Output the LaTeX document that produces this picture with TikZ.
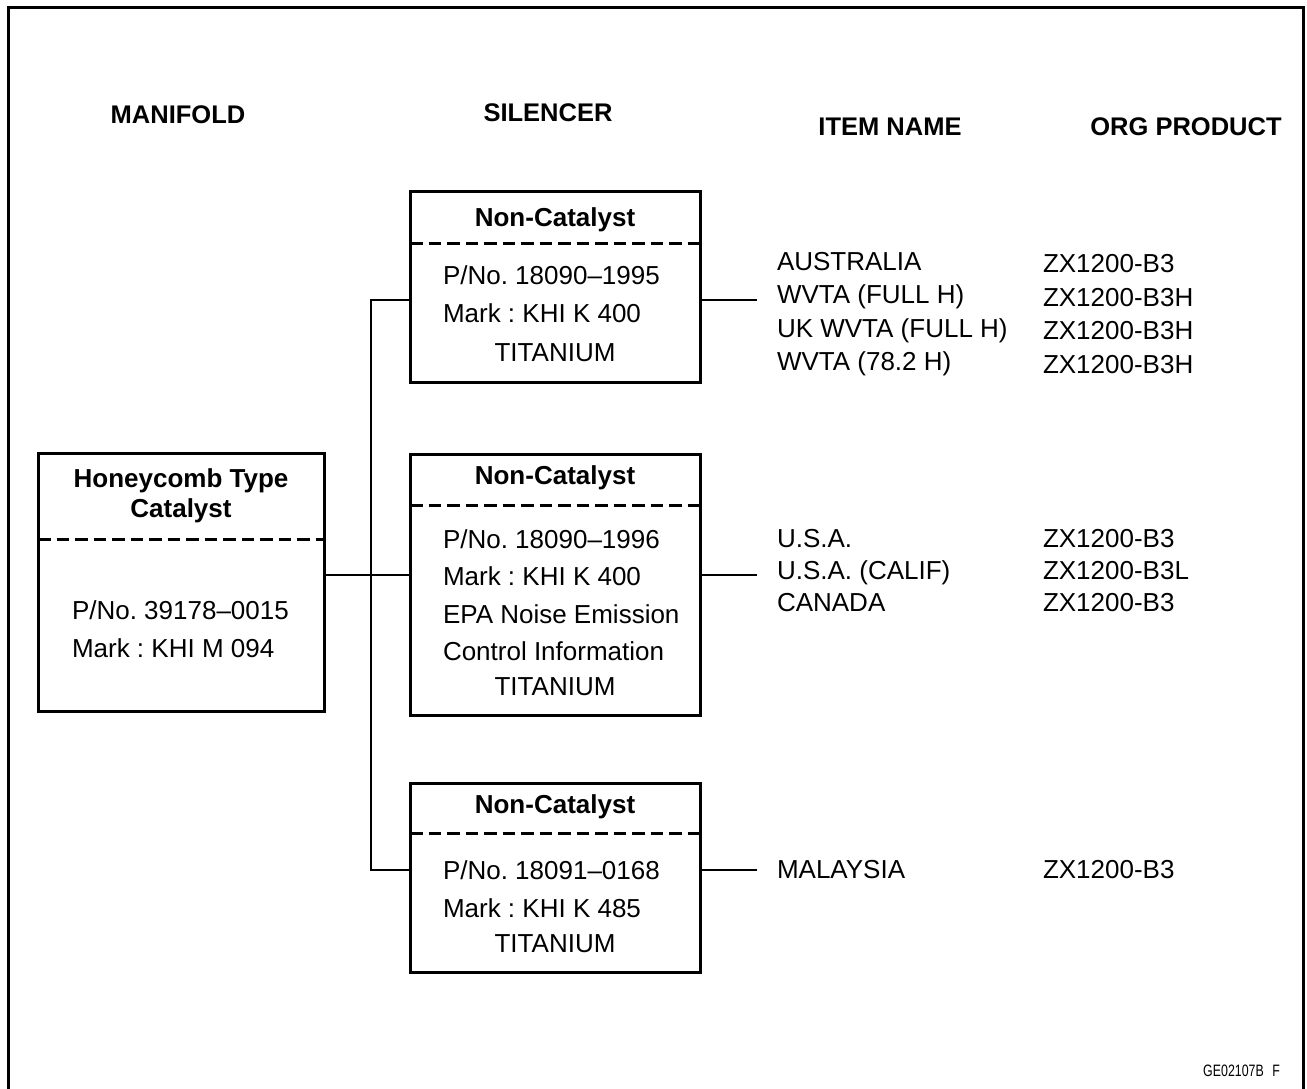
\documentclass[tikz,border=0pt]{standalone}
\usepackage{fontspec}
\setmainfont{Liberation Sans}
\usepackage{tikz}
\usetikzlibrary{positioning}
\usetikzlibrary{calc}

\frenchspacing
\newcommand{\bodyfont}{\fontsize{26}{37.5}\selectfont}
\newcommand{\listfont}{\fontsize{26}{33}\selectfont}

\begin{document}
\begin{tikzpicture}[
    x=1pt, y=-1pt,
    every node/.style={
    inner sep=0pt,
    outer sep=0pt,
    font=\listfont},
    partbox/.style={
    draw,
    line width=3pt,
    minimum width=290pt},
    heading/.style={font=\bfseries\fontsize{25.5}{30}\selectfont},
    divider/.style={line width=3pt, dash pattern=on 12.5pt off 6pt},
    link/.style={line width=2pt}]
    \useasboundingbox (0,0) rectangle (1307,1088);
    % frame, open at the bottom
    \draw[line width=3pt] (8,1090) -- (8,7) -- (1303,7) -- (1303,1090);

    % column headings
    \node[heading] (hman) at (178,115) {MANIFOLD};
    \node[heading] (hsil) at (548,113) {SILENCER};
    \node[heading] (hitem) at (890,127) {ITEM NAME};
    \node[heading] (horg) at (1186,127) {ORG PRODUCT};

    % manifold
    \node[partbox, minimum width=286pt, minimum height=258pt] (man) at (181,582) {};
    \node[font=\bfseries\fontsize{26}{30}\selectfont, align=center] (mantitle) at (181,496) {Honeycomb Type\\Catalyst};
    \draw[divider] (man.west |- 0,539) -- (man.east |- 0,539);
    \node[font=\fontsize{26}{38}\selectfont, align=left, anchor=west] (manbody) at (72,629) {P/No. 39178--0015\\Mark : KHI M 094};

    % silencers
    \node[partbox, minimum height=191pt] (sil1) at (555,286.5) {};
    \node[font=\bfseries\listfont] (sil1t) at (555,220) {Non-Catalyst};
    \draw[divider] (sil1.west |- 0,243) -- (sil1.east |- 0,243);
    \node[font=\bodyfont, align=left, anchor=west] (sil1b) at (443,294) {P/No. 18090--1995\\Mark : KHI K 400};
    \node (sil1ti) at (555,353) {TITANIUM};

    \node[partbox, minimum height=261pt] (sil2) at (555,584.5) {};
    \node[font=\bfseries\listfont] (sil2t) at (555,478) {Non-Catalyst};
    \draw[divider] (sil2.west |- 0,505) -- (sil2.east |- 0,505);
    \node[font=\bodyfont, align=left, anchor=west] (sil2b) at (443,595) {P/No. 18090--1996\\Mark : KHI K 400\\EPA Noise Emission\\Control Information};
    \node (sil2ti) at (555,687) {TITANIUM};

    \node[partbox, minimum height=189pt] (sil3) at (555,877.5) {};
    \node[font=\bfseries\listfont] (sil3t) at (555,807) {Non-Catalyst};
    \draw[divider] (sil3.west |- 0,833) -- (sil3.east |- 0,833);
    \node[font=\bodyfont, align=left, anchor=west] (sil3b) at (443,889) {P/No. 18091--0168\\Mark : KHI K 485};
    \node (sil3ti) at (555,944) {TITANIUM};

    % item names and products
    \node[font=\fontsize{26}{33.5}\selectfont, align=left, anchor=west] (item1) at (777,314) {AUSTRALIA\\WVTA (FULL H)\\UK WVTA (FULL H)\\WVTA (78.2 H)};
    \node[font=\fontsize{26}{33.5}\selectfont, align=left, anchor=west] (org1) at (1043,314) {ZX1200-B3\\ZX1200-B3H\\ZX1200-B3H\\ZX1200-B3H};
    \node[font=\fontsize{26}{32}\selectfont, align=left, anchor=west] (item2) at (777,571) {U.S.A.\\U.S.A. (CALIF)\\CANADA};
    \node[font=\fontsize{26}{32}\selectfont, align=left, anchor=west] (org2) at (1043,571) {ZX1200-B3\\ZX1200-B3L\\ZX1200-B3};
    \node[anchor=west] (item3) at (777,870) {MALAYSIA};
    \node[anchor=west] (org3) at (1043,870) {ZX1200-B3};

    % connectors
    \coordinate (jn) at (371,575);
    \coordinate (tr1) at (371,300);
    \coordinate (tr3) at (371,870);
    \draw[link] (man.east |- jn) -- (sil2.west |- jn);
    \draw[link] (sil1.west |- tr1) -- (tr1) -- (tr3) -- (sil3.west |- tr3);
    \draw[link, shorten >=20pt] (sil1.east |- tr1) -- (item1.west |- tr1);
    \draw[link, shorten >=20pt] (sil2.east |- jn) -- (item2.west |- jn);
    \draw[link, shorten >=20pt] (sil3.east |- tr3) -- (item3.west |- tr3);

    \node[anchor=east] (code) at (1280,1071) {\scalebox{0.75}[1]{\fontsize{16.5}{18}\selectfont GE02107B\hspace{0.7em}F}};
\end{tikzpicture}
\end{document}
